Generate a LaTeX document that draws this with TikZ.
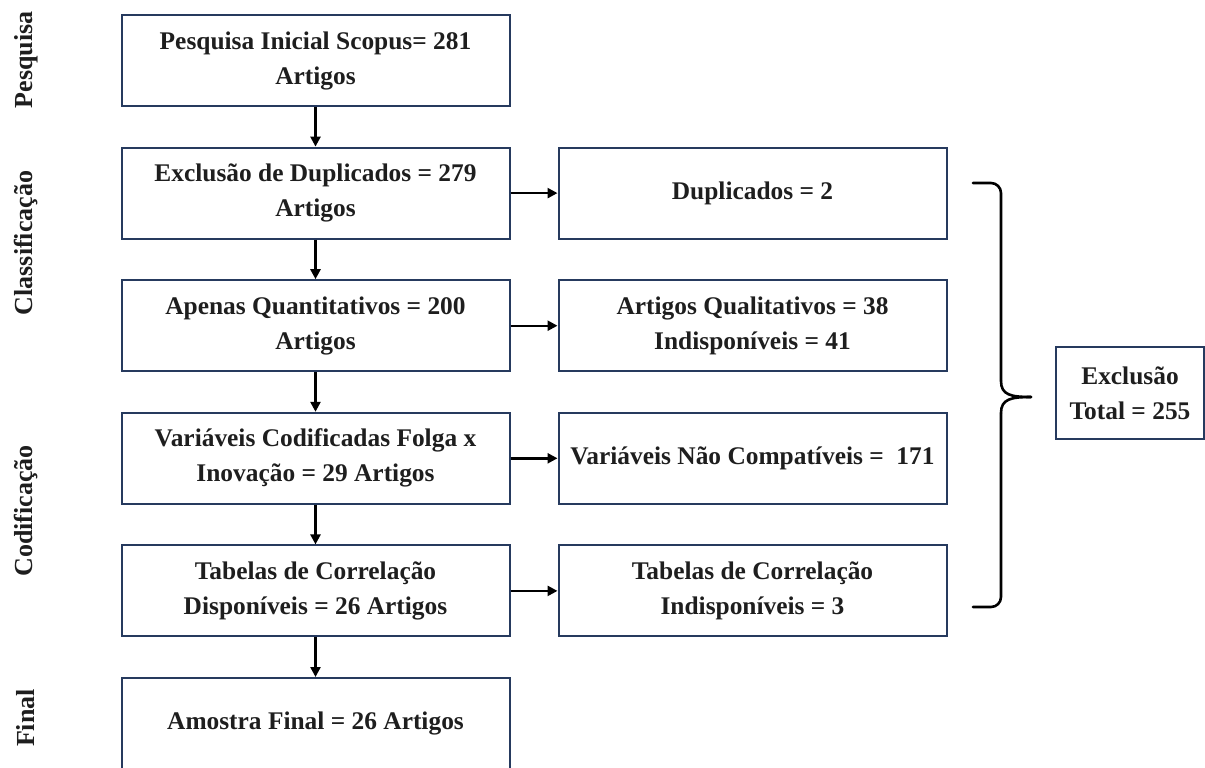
\documentclass[tikz,border=0pt]{standalone}
\usepackage{fontspec}
\setmainfont{Liberation Serif}
\usetikzlibrary{positioning, calc, arrows.meta}
\definecolor{boxline}{RGB}{38,58,94}
\definecolor{inktext}{RGB}{30,30,30}

\begin{document}
\begin{tikzpicture}[x=0.5pt, y=-0.5pt]
    \tikzstyle{stage} = [draw=boxline, line width=1pt, rectangle, minimum width=194pt, minimum height=45.5pt, align=center, text=inktext, font=\fontsize{12.7}{17.5}\selectfont\bfseries];
    \tikzstyle{phase} = [rotate=90, text=inktext, font=\fontsize{13}{15}\selectfont\bfseries];
    \tikzstyle{flow} = [line width=1.2pt, -{Triangle[length=5pt, width=5pt]}];
    \tikzstyle{bracket} = [line width=1.3pt, line cap=round];

    \useasboundingbox (0, 0) rectangle (1205, 767);

    % left column
    \node[stage] at (315.5, 60.5) (pesq) {Pesquisa Inicial Scopus= 281\\Artigos};
    \node[stage, below = 19.8pt of pesq] (dup) {Exclusão de Duplicados = 279\\Artigos};
    \node[stage, below = 19.8pt of dup] (quant) {Apenas Quantitativos = 200\\Artigos};
    \node[stage, below = 19.8pt of quant] (cod) {Variáveis Codificadas Folga x\\Inovação = 29 Artigos};
    \node[stage, below = 19.8pt of cod] (tab) {Tabelas de Correlação\\Disponíveis = 26 Artigos};
    \node[stage, below = 19.8pt of tab] (final) {Amostra Final = 26 Artigos};

    % right column
    \node[stage, right = 23.5pt of dup] (dupx) {Duplicados = 2};
    \node[stage, right = 23.5pt of quant] (quantx) {Artigos Qualitativos = 38\\Indisponíveis = 41};
    \node[stage, right = 23.5pt of cod] (codx) {Variáveis Não Compatíveis = ~171};
    \node[stage, right = 23.5pt of tab] (tabx) {Tabelas de Correlação\\Indisponíveis = 3};

    \node[stage, minimum width=74pt, minimum height=46pt] at (1130, 393) (total) {Exclusão\\Total = 255};

    % phases
    \node[phase] at (26, 60) (p1) {Pesquisa};
    \node[phase] at (26, 243) (p2) {Classificação};
    \node[phase] at (26, 511) (p3) {Codificação};
    \node[phase] at (26, 718) (p4) {Final};

    \draw[flow] (pesq) -- (dup);
    \draw[flow] (dup) -- (quant);
    \draw[flow] (quant) -- (cod);
    \draw[flow] (cod) -- (tab);
    \draw[flow] (tab) -- (final);

    \draw[flow] (dup) -- (dupx);
    \draw[flow] (quant) -- (quantx);
    \draw[flow] (cod) -- (codx);
    \draw[flow] (tab) -- (tabx);

    % brace
    \coordinate (btop) at (973, 183);
    \coordinate (btip) at (1031, 397);
    \coordinate (bbot) at (973, 607);
    \draw[bracket, rounded corners=5pt] (btop) -- ($(btop)+(28,0)$) -- ($(btip)+(-30,-16)$);
    \draw[bracket] ($(btip)+(-30,-16)$) .. controls ($(btip)+(-30,-2)$) and ($(btip)+(-20,0)$) .. (btip);
    \draw[bracket] (btip) .. controls ($(btip)+(-20,0)$) and ($(btip)+(-30,2)$) .. ($(btip)+(-30,16)$);
    \draw[bracket, rounded corners=5pt] ($(btip)+(-30,16)$) -- ($(bbot)+(28,0)$) -- (bbot);
\end{tikzpicture}
\end{document}
